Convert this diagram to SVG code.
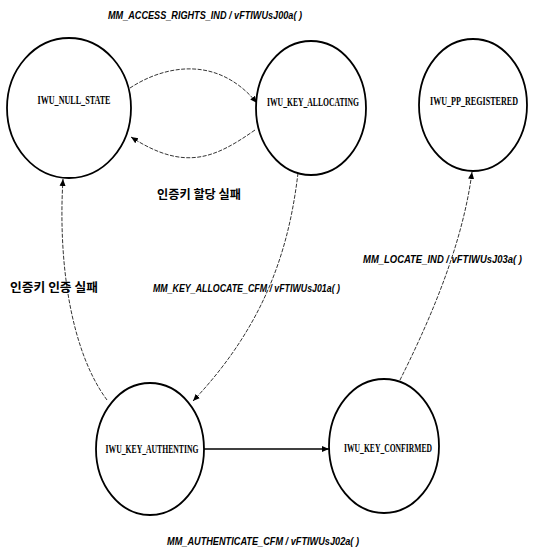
<svg xmlns="http://www.w3.org/2000/svg" width="534" height="556" viewBox="0 0 534 556">
<style>
.st{fill:#fff;stroke:#000;stroke-width:1.8}
.nl{font-family:"Liberation Serif",serif;font-size:12px;font-weight:bold;text-anchor:middle}
.el{font-family:"Liberation Sans",sans-serif;font-size:11.5px;font-weight:bold;font-style:italic}
.kl{font-family:"Noto Sans CJK KR","Noto Sans",sans-serif;font-size:12px;font-weight:bold}
.cn{fill:none;stroke:#000;stroke-width:0.8;stroke-dasharray:4 1.5}
.sol{fill:none;stroke:#000;stroke-width:1.6}
</style>
<defs>
<marker id="ah" markerWidth="8" markerHeight="8" refX="7" refY="4" orient="auto" markerUnits="userSpaceOnUse">
<path d="M0,1 L7,4 L0,7 Z" fill="#000"/>
</marker>
</defs>
<g id="connectors">
<path class="cn" d="M130,88 C160,68 215,52 257,103" marker-end="url(#ah)"/>
<path class="cn" d="M255,130 C215,158 185,172 131,137" marker-end="url(#ah)"/>
<path class="cn" d="M298,173 C290,240 270,320 193,401" marker-end="url(#ah)"/>
<path class="cn" d="M107,400 C70,350 58,260 63,179" marker-end="url(#ah)"/>
<path class="cn" d="M400,380 C425,330 462,250 472,172" marker-end="url(#ah)"/>
<path class="sol" d="M204,449 L329,449" marker-end="url(#ah)"/>
</g>
<g id="null_state">
<ellipse class="st" cx="69" cy="108" rx="62" ry="70"/>
<text class="nl" x="74" y="104" textLength="73" lengthAdjust="spacingAndGlyphs">IWU_NULL_STATE</text>
</g>
<g id="key_allocating">
<ellipse class="st" cx="311" cy="108" rx="55" ry="67"/>
<text class="nl" x="313" y="106" textLength="92" lengthAdjust="spacingAndGlyphs">IWU_KEY_ALLOCATING</text>
</g>
<g id="pp_registered">
<ellipse class="st" cx="473" cy="105" rx="54" ry="66"/>
<text class="nl" x="474" y="105" textLength="88" lengthAdjust="spacingAndGlyphs">IWU_PP_REGISTERED</text>
</g>
<g id="key_authenting">
<ellipse class="st" cx="150" cy="449" rx="54" ry="66"/>
<text class="nl" x="152" y="453" textLength="93" lengthAdjust="spacingAndGlyphs">IWU_KEY_AUTHENTING</text>
</g>
<g id="key_confirmed">
<ellipse class="st" cx="384" cy="446" rx="55" ry="67"/>
<text class="nl" x="388" y="452" textLength="88" lengthAdjust="spacingAndGlyphs">IWU_KEY_CONFIRMED</text>
</g>
<g id="labels">
<text class="el" x="108" y="19" textLength="194" lengthAdjust="spacingAndGlyphs">MM_ACCESS_RIGHTS_IND / vFTIWUsJ00a( )</text>
<text class="kl" x="157" y="199" textLength="84" lengthAdjust="spacingAndGlyphs">인증키 할당 실패</text>
<text class="kl" x="10" y="292" textLength="88" lengthAdjust="spacingAndGlyphs">인증키 인증 실패</text>
<text class="el" x="153" y="292" textLength="187" lengthAdjust="spacingAndGlyphs">MM_KEY_ALLOCATE_CFM / vFTIWUsJ01a( )</text>
<text class="el" x="363" y="263" textLength="159" lengthAdjust="spacingAndGlyphs">MM_LOCATE_IND / vFTIWUsJ03a( )</text>
<text class="el" x="167" y="545" textLength="192" lengthAdjust="spacingAndGlyphs">MM_AUTHENTICATE_CFM / vFTIWUsJ02a( )</text>
</g>
</svg>
